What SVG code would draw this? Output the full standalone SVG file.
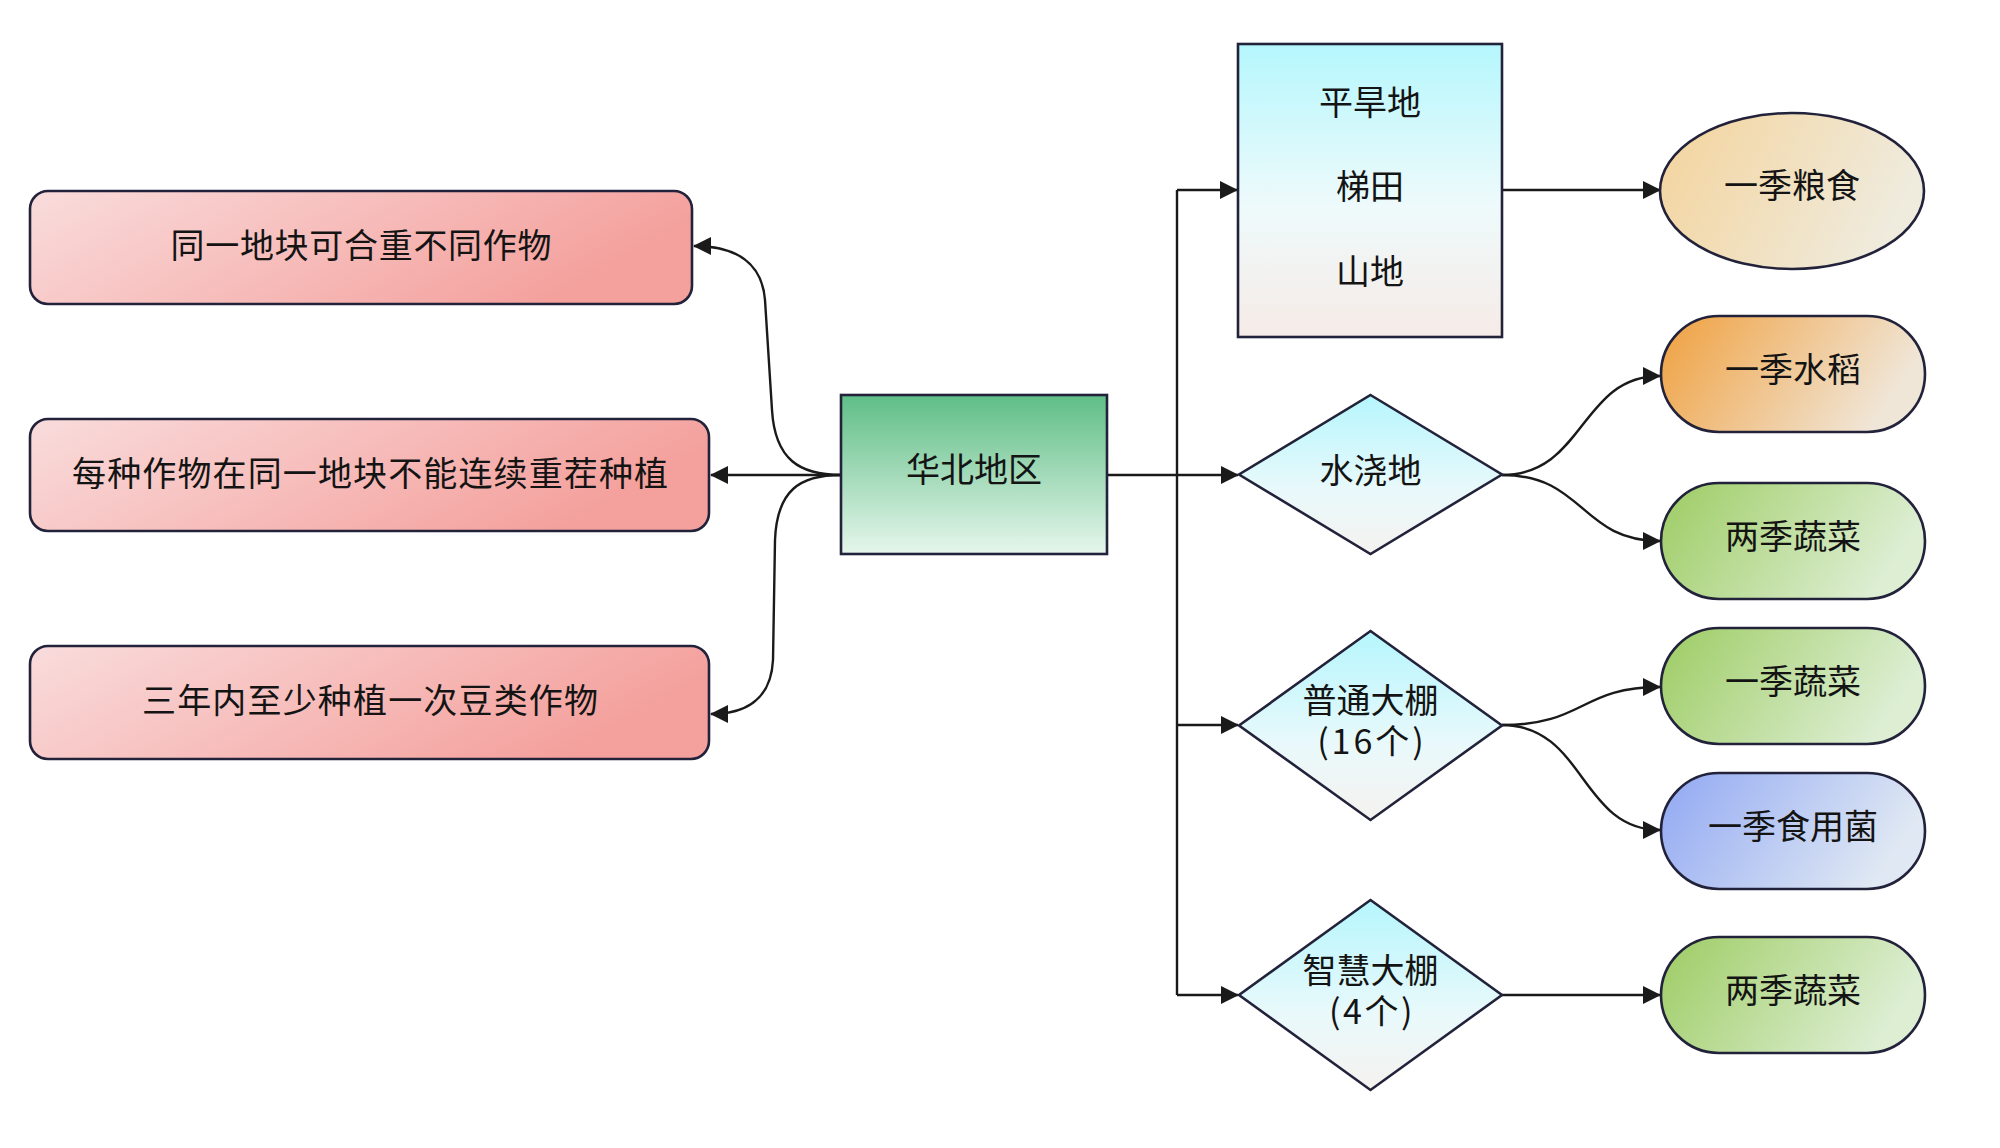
<svg xmlns="http://www.w3.org/2000/svg" width="2000" height="1148" viewBox="0 0 2000 1148">
<defs>
<style>
.node{stroke:#22223a;stroke-width:2.6}
.t{font-family:"Noto Sans CJK SC","Noto Sans CJK JP",sans-serif;font-size:34px;fill:#141414;text-anchor:middle;dominant-baseline:central}
.c{fill:none;stroke:#1a1a1a;stroke-width:2.4}
</style>
<linearGradient id="gPink" x1="0" y1="0" x2="1" y2="0.3"><stop offset="0" stop-color="#f9dcdc"/><stop offset="1" stop-color="#f4a09c"/></linearGradient>
<linearGradient id="gGreenBox" x1="0" y1="0" x2="0" y2="1"><stop offset="0" stop-color="#5fbe86"/><stop offset="1" stop-color="#e6f6ec"/></linearGradient>
<linearGradient id="gCyan" x1="0" y1="0" x2="0" y2="1"><stop offset="0" stop-color="#b5f7fd"/><stop offset="0.55" stop-color="#eefafb"/><stop offset="1" stop-color="#f6ebe7"/></linearGradient>
<linearGradient id="gDia" x1="0" y1="0" x2="0" y2="1"><stop offset="0" stop-color="#b5f6fd"/><stop offset="0.6" stop-color="#e9f9fb"/><stop offset="1" stop-color="#f5f2ef"/></linearGradient>
<linearGradient id="gSand" x1="0" y1="0" x2="1" y2="0.3"><stop offset="0" stop-color="#f4d39b"/><stop offset="1" stop-color="#efebdd"/></linearGradient>
<linearGradient id="gOrange" x1="0" y1="0" x2="1" y2="0.3"><stop offset="0" stop-color="#f0a03e"/><stop offset="1" stop-color="#f0e6d8"/></linearGradient>
<linearGradient id="gVeg" x1="0" y1="0" x2="1" y2="0.3"><stop offset="0" stop-color="#9dcc63"/><stop offset="1" stop-color="#ddeed3"/></linearGradient>
<linearGradient id="gBlue" x1="0" y1="0" x2="1" y2="0.3"><stop offset="0" stop-color="#91a8f3"/><stop offset="1" stop-color="#dfe8f3"/></linearGradient>
<marker id="arr" viewBox="0 0 18 18" refX="17" refY="9" markerWidth="18" markerHeight="18" markerUnits="userSpaceOnUse" orient="auto"><path d="M0,0 L18,9 L0,18 Z" fill="#1a1a1a"/></marker>
</defs>
<rect width="2000" height="1148" fill="#ffffff"/>

<g id="connectors">
<path class="c" d="M841,475 C800,475 775,460 772,410 L765,300 C762,262 735,246 694,246" marker-end="url(#arr)"/>
<path class="c" d="M841,475 H711" marker-end="url(#arr)"/>
<path class="c" d="M841,475 C800,475 777,490 775,540 L773,660 C771,700 745,714 711,714" marker-end="url(#arr)"/>
<path class="c" d="M1107,475 H1177"/>
<path class="c" d="M1177,190 V995"/>
<path class="c" d="M1177,190 H1237" marker-end="url(#arr)"/>
<path class="c" d="M1177,475 H1238" marker-end="url(#arr)"/>
<path class="c" d="M1177,725 H1238" marker-end="url(#arr)"/>
<path class="c" d="M1177,995 H1238" marker-end="url(#arr)"/>
<path class="c" d="M1502,190 H1660" marker-end="url(#arr)"/>
<path class="c" d="M1502,475 C1585,475 1580,376 1660,376" marker-end="url(#arr)"/>
<path class="c" d="M1502,475 C1585,475 1580,541 1660,541" marker-end="url(#arr)"/>
<path class="c" d="M1502,725 C1585,725 1580,687 1660,687" marker-end="url(#arr)"/>
<path class="c" d="M1502,725 C1585,725 1580,830 1660,830" marker-end="url(#arr)"/>
<path class="c" d="M1502,995 H1660" marker-end="url(#arr)"/>
</g>

<g id="rule1"><rect class="node" x="30" y="191" width="662" height="113" rx="18" fill="url(#gPink)"/><text class="t" x="361" y="243" textLength="381" lengthAdjust="spacing">同一地块可合重不同作物</text></g>
<g id="rule2"><rect class="node" x="30" y="419" width="679" height="112" rx="18" fill="url(#gPink)"/><text class="t" x="370" y="471" textLength="596" lengthAdjust="spacing">每种作物在同一地块不能连续重茬种植</text></g>
<g id="rule3"><rect class="node" x="30" y="646" width="679" height="113" rx="18" fill="url(#gPink)"/><text class="t" x="370" y="698" textLength="456" lengthAdjust="spacing">三年内至少种植一次豆类作物</text></g>

<g id="huabei"><rect class="node" x="841" y="395" width="266" height="159" fill="url(#gGreenBox)"/><text class="t" x="974" y="467">华北地区</text></g>

<g id="dryland"><rect class="node" x="1238" y="44" width="264" height="293" fill="url(#gCyan)"/>
<text class="t" x="1370" y="100">平旱地</text><text class="t" x="1370" y="184">梯田</text><text class="t" x="1370" y="269">山地</text></g>

<g id="irrigated"><polygon class="node" points="1370.5,395 1502,474.5 1370.5,554 1239,474.5" fill="url(#gDia)"/><text class="t" x="1370.5" y="468">水浇地</text></g>
<g id="greenhouse"><polygon class="node" points="1370.5,631 1502,725.5 1370.5,820 1239,725.5" fill="url(#gDia)"/><text class="t" x="1370.5" y="698">普通大棚<tspan x="1372" dy="41" letter-spacing="3">(16个)</tspan></text></g>
<g id="smartgreenhouse"><polygon class="node" points="1370.5,900 1502,995 1370.5,1090 1239,995" fill="url(#gDia)"/><text class="t" x="1370.5" y="968">智慧大棚<tspan x="1372" dy="41" letter-spacing="2.5">(4个)</tspan></text></g>

<g id="grain"><ellipse class="node" cx="1792" cy="191" rx="132" ry="78" fill="url(#gSand)"/><text class="t" x="1792" y="183">一季粮食</text></g>
<g id="rice"><rect class="node" x="1661" y="316" width="264" height="116" rx="58" fill="url(#gOrange)"/><text class="t" x="1793" y="367">一季水稻</text></g>
<g id="veg2a"><rect class="node" x="1661" y="483" width="264" height="116" rx="58" fill="url(#gVeg)"/><text class="t" x="1793" y="534">两季蔬菜</text></g>
<g id="veg1"><rect class="node" x="1661" y="628" width="264" height="116" rx="58" fill="url(#gVeg)"/><text class="t" x="1793" y="679">一季蔬菜</text></g>
<g id="fungus"><rect class="node" x="1661" y="773" width="264" height="116" rx="58" fill="url(#gBlue)"/><text class="t" x="1793" y="824">一季食用菌</text></g>
<g id="veg2b"><rect class="node" x="1661" y="937" width="264" height="116" rx="58" fill="url(#gVeg)"/><text class="t" x="1793" y="988">两季蔬菜</text></g>
</svg>
